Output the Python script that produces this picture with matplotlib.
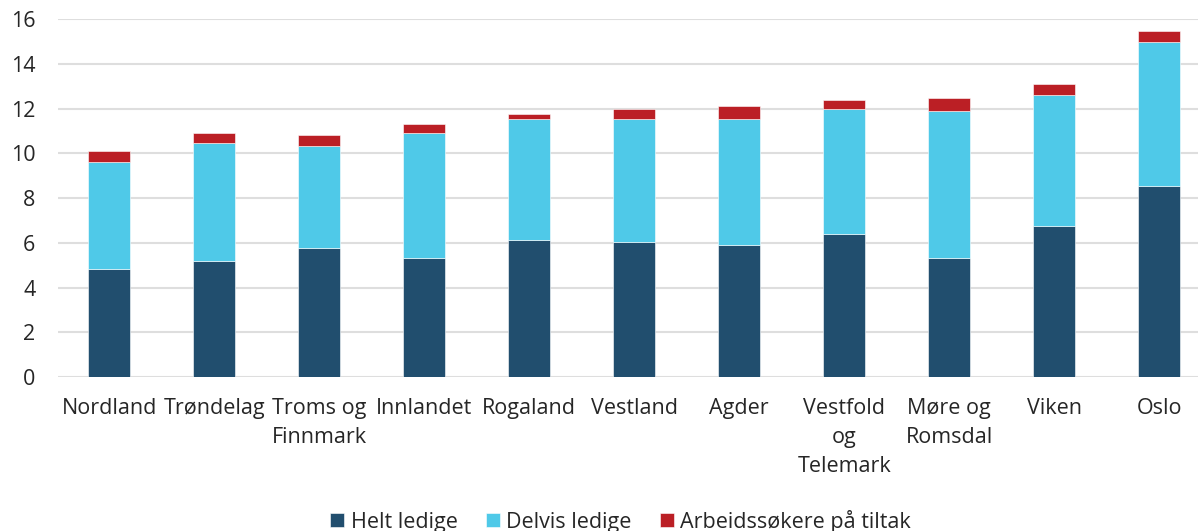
import numpy as np
import matplotlib.pyplot as plt

plt.rcParams['font.family'] = ['Open Sans', 'DejaVu Sans']

fylker = ['Nordland', 'Trøndelag', 'Troms og\nFinnmark', 'Innlandet', 'Rogaland',
          'Vestland', 'Agder', 'Vestfold\nog\nTelemark', 'Møre og\nRomsdal', 'Viken', 'Oslo']
helt = [4.83, 5.18, 5.78, 5.32, 6.14, 6.02, 5.90, 6.38, 5.32, 6.74, 8.54]
delvis = [4.79, 5.26, 4.55, 5.61, 5.39, 5.51, 5.63, 5.61, 6.56, 5.86, 6.45]
tiltak = [0.47, 0.49, 0.48, 0.36, 0.23, 0.47, 0.59, 0.39, 0.60, 0.48, 0.48]

c_helt = '#214e6e'
c_delvis = '#4fc9e8'
c_tiltak = '#bb1f25'

fig = plt.figure(figsize=(11.98, 5.31), dpi=100)
ax = fig.add_axes([0.048, 0.29, 0.952, 0.674])

x = np.arange(len(fylker))
w = 0.4
h = np.array(helt)
d = np.array(delvis)
ax.bar(x, helt, w, color=c_helt, label='Helt ledige', edgecolor='white', linewidth=0.4, zorder=3)
ax.bar(x, delvis, w, bottom=h, color=c_delvis, label='Delvis ledige', edgecolor='white', linewidth=0.4, zorder=3)
ax.bar(x, tiltak, w, bottom=h + d, color=c_tiltak, label='Arbeidssøkere på tiltak', edgecolor='white', linewidth=0.4, zorder=3)

ax.set_ylim(0, 16)
ax.set_xlim(-0.495, 10.37)
ax.set_yticks(range(0, 17, 2))
ax.set_xticks(x)
ax.set_xticklabels(fylker, fontsize=15.5, color='#262626', linespacing=1.5)
ax.tick_params(axis='y', labelsize=15.5, colors='#262626', length=0, pad=16)
ax.tick_params(axis='x', length=0, pad=15)
ax.yaxis.grid(True, color='#dedede', linewidth=1.5, zorder=0)
for s in ax.spines.values():
    s.set_visible(False)

leg = fig.legend(loc='lower center', bbox_to_anchor=(0.518, -0.04), ncol=3, frameon=False,
                 fontsize=15.5, handlelength=0.65, handleheight=0.65, handletextpad=0.3,
                 columnspacing=1.3, labelcolor='#262626')

fig.savefig('out.png', dpi=100)
